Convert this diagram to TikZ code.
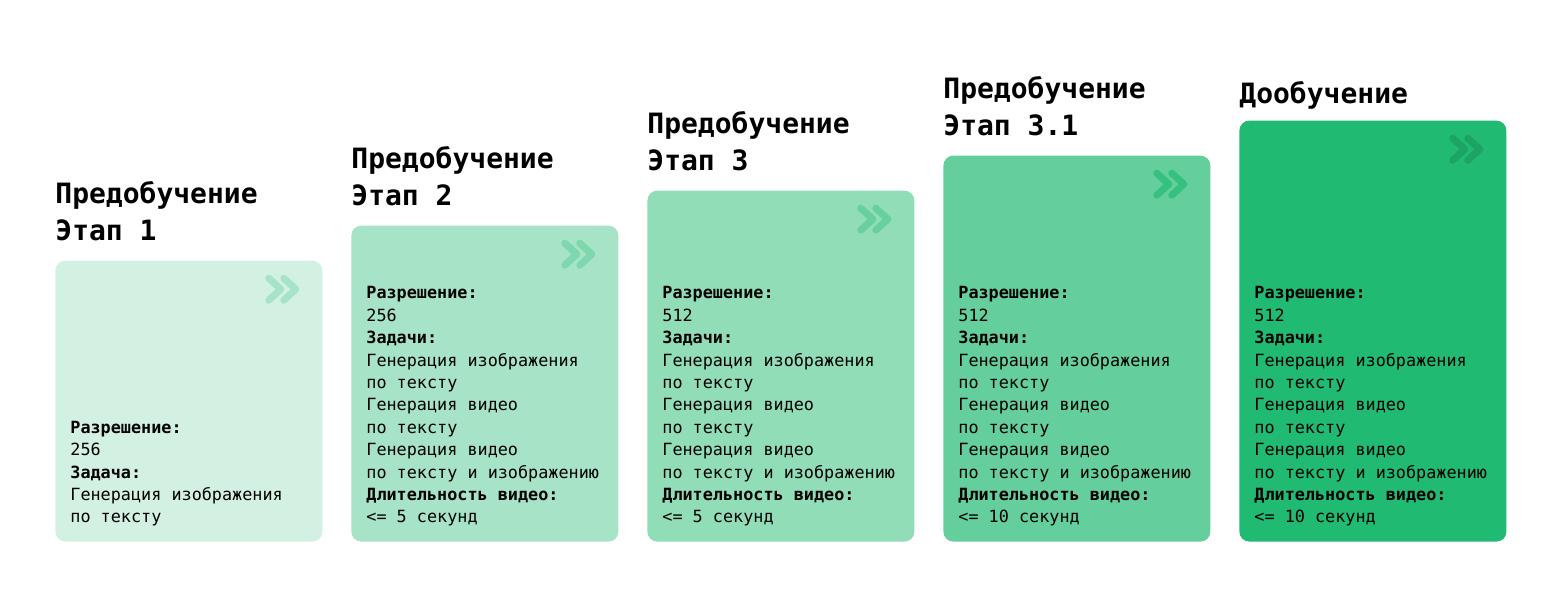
\documentclass[tikz,border=0pt]{standalone}
\usepackage{fontspec}
\setmainfont{DejaVu Sans Mono}

\definecolor{stagegreen}{HTML}{21BA72}

\tikzset{
	card/.style={rounded corners=5pt, minimum width=133.5pt, anchor=south west, inner sep=0pt},
	stagetitle/.style={anchor=base west, align=left, inner sep=0pt, font=\fontsize{14}{18.7}\selectfont\bfseries},
	cardtext/.style={anchor=base west, align=left, inner sep=0pt, font=\fontsize{8.4}{11.2}\selectfont},
	chevron/.style={line width=3.5pt, line cap=round, line join=round},
}

\begin{document}
\begin{tikzpicture}[x=0.5pt,y=-0.5pt]
	\useasboundingbox[fill=white] (0,0) rectangle (1560,609);

	% stage 1
	\node[card, fill=stagegreen!20!white, minimum height=140.5pt] (card1) at (55,542) {};
	\node[stagetitle] (title1) at (55,241) {Предобучение\\Этап 1};
	\draw[chevron, draw=stagegreen!40!white] ([shift={(-54,18)}]card1.north east) -- ++(12,11) -- ++(-12,11);
	\draw[chevron, draw=stagegreen!40!white] ([shift={(-39,18)}]card1.north east) -- ++(12,11) -- ++(-12,11);
	\node[cardtext] (text1) at (70,523) {\textbf{Разрешение:}\\256\\\textbf{Задача:}\\Генерация изображения\\по тексту};

	% stage 2
	\node[card, fill=stagegreen!40!white, minimum height=158pt] (card2) at (351,542) {};
	\node[stagetitle] (title2) at (351,206) {Предобучение\\Этап 2};
	\draw[chevron, draw=stagegreen!58!white] ([shift={(-54,18)}]card2.north east) -- ++(12,11) -- ++(-12,11);
	\draw[chevron, draw=stagegreen!58!white] ([shift={(-39,18)}]card2.north east) -- ++(12,11) -- ++(-12,11);
	\node[cardtext] (text2) at (366,523) {\textbf{Разрешение:}\\256\\\textbf{Задачи:}\\Генерация изображения\\по тексту\\Генерация видео\\по тексту\\Генерация видео\\по тексту и изображению\\\textbf{Длительность видео:}\\<= 5 секунд};

	% stage 3
	\node[card, fill=stagegreen!50!white, minimum height=175.5pt] (card3) at (647,542) {};
	\node[stagetitle] (title3) at (647,171) {Предобучение\\Этап 3};
	\draw[chevron, draw=stagegreen!68!white] ([shift={(-54,18)}]card3.north east) -- ++(12,11) -- ++(-12,11);
	\draw[chevron, draw=stagegreen!68!white] ([shift={(-39,18)}]card3.north east) -- ++(12,11) -- ++(-12,11);
	\node[cardtext] (text3) at (662,523) {\textbf{Разрешение:}\\512\\\textbf{Задачи:}\\Генерация изображения\\по тексту\\Генерация видео\\по тексту\\Генерация видео\\по тексту и изображению\\\textbf{Длительность видео:}\\<= 5 секунд};

	% stage 3.1
	\node[card, fill=stagegreen!70!white, minimum height=193pt] (card4) at (943,542) {};
	\node[stagetitle] (title4) at (943,136) {Предобучение\\Этап 3.1};
	\draw[chevron, draw=stagegreen!90!white] ([shift={(-54,18)}]card4.north east) -- ++(12,11) -- ++(-12,11);
	\draw[chevron, draw=stagegreen!90!white] ([shift={(-39,18)}]card4.north east) -- ++(12,11) -- ++(-12,11);
	\node[cardtext] (text4) at (958,523) {\textbf{Разрешение:}\\512\\\textbf{Задачи:}\\Генерация изображения\\по тексту\\Генерация видео\\по тексту\\Генерация видео\\по тексту и изображению\\\textbf{Длительность видео:}\\<= 10 секунд};

	% fine-tuning
	\node[card, fill=stagegreen, minimum height=210.5pt] (card5) at (1239,542) {};
	\node[stagetitle] (title5) at (1239,104) {Дообучение};
	\draw[chevron, draw=stagegreen!88!black] ([shift={(-54,18)}]card5.north east) -- ++(12,11) -- ++(-12,11);
	\draw[chevron, draw=stagegreen!88!black] ([shift={(-39,18)}]card5.north east) -- ++(12,11) -- ++(-12,11);
	\node[cardtext] (text5) at (1254,523) {\textbf{Разрешение:}\\512\\\textbf{Задачи:}\\Генерация изображения\\по тексту\\Генерация видео\\по тексту\\Генерация видео\\по тексту и изображению\\\textbf{Длительность видео:}\\<= 10 секунд};
\end{tikzpicture}
\end{document}
